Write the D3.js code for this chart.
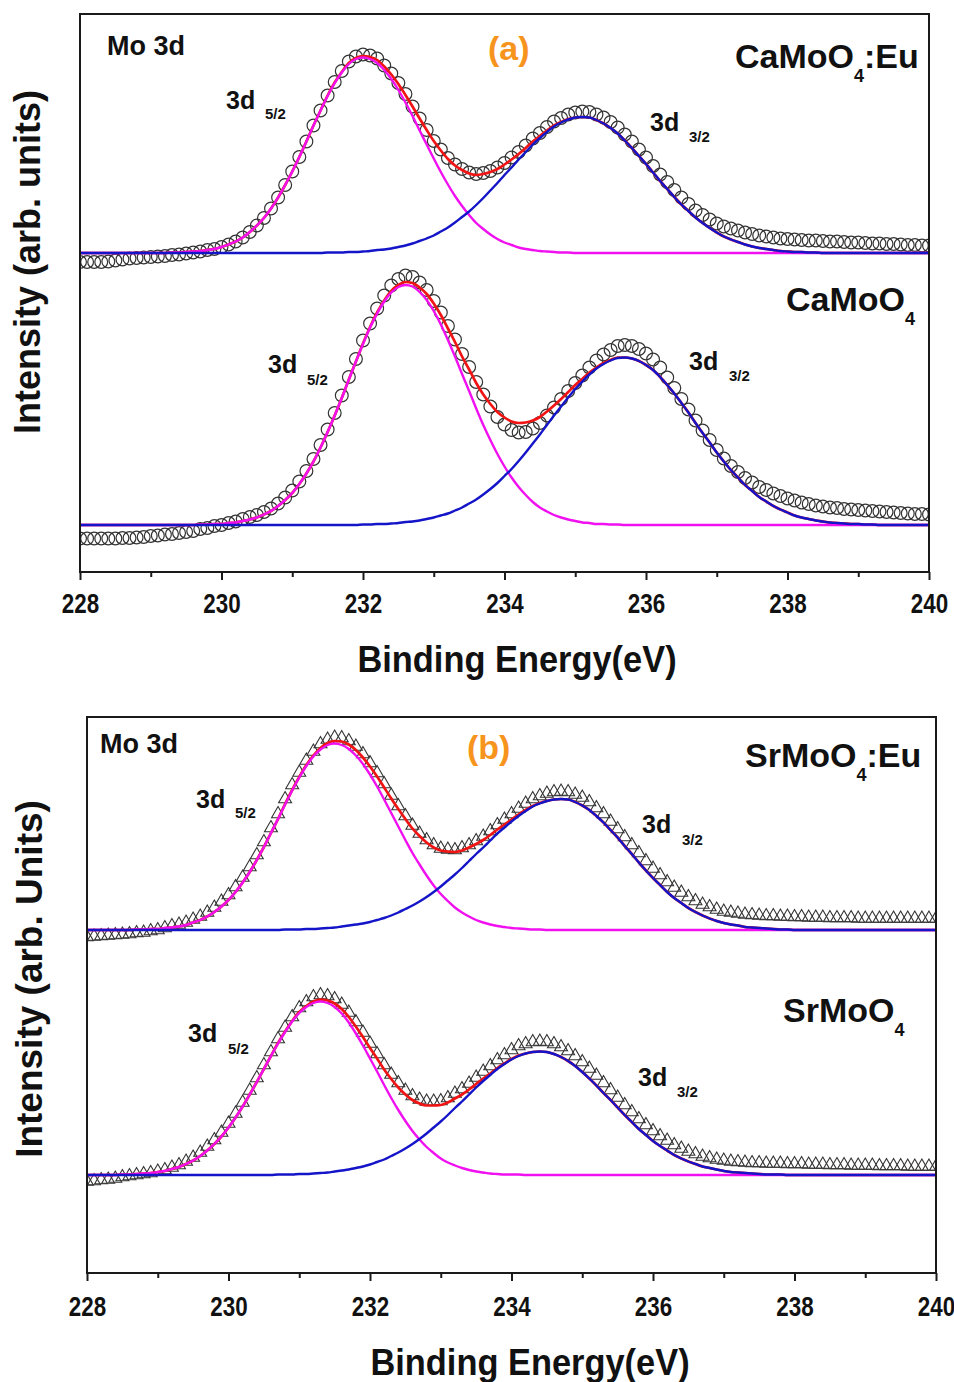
<!DOCTYPE html>
<html>
<head>
<meta charset="utf-8">
<script src="https://cdn.jsdelivr.net/npm/d3@7"></script>
<style>
  html, body { margin: 0; padding: 0; background: #fff; }
  svg { display: block; }
  text { font-family: "Liberation Sans", Arial, Helvetica, sans-serif; font-weight: bold; fill: #111; }
</style>
</head>
<body>
<svg id="chart" width="954" height="1382"></svg>
<script>
// Mo 3d XPS spectra, binding energy grid 228.0 - 240.0 eV in 0.1 eV steps
const energyStart = 228;
const energyStep = 0.1;
const energyDomain = [228, 240];
const majorTicks = [228, 230, 232, 234, 236, 238, 240];
const minorTicks = [229, 231, 233, 235, 237, 239];

// (a) CaMoO4:Eu - measured points and fitted 3d5/2 / 3d3/2 components (arb. units)
const caEuData = [
  -18,-18,-18,-18,-17,-15,-13,-11,-10,-9,
  -8,-7,-6,-4,-3,-1,1,3,6,8,
  12,17,23,31,42,55,70,89,111,136,
  163,192,223,255,285,315,342,364,383,393,
  397,395,389,375,359,340,318,293,269,246,
  224,207,190,177,168,161,158,160,164,171,
  180,191,202,215,229,240,252,263,270,277,
  281,283,282,277,271,262,251,237,223,207,
  191,174,157,142,126,111,98,85,76,67,
  59,53,49,45,41,38,35,33,31,29,
  28,27,26,25,25,24,23,23,22,21,
  21,20,19,19,18,18,17,16,16,15,15
];
const caEuMo52 = [
  0,0,0,0,0,0,0,0,0,0,
  0,0,0,1,1,2,3,4,6,8,
  12,17,23,31,42,55,70,89,111,136,
  163,192,223,255,285,314,340,361,378,388,
  391,388,380,366,348,326,301,274,245,217,
  189,162,137,114,94,76,60,48,37,28,
  21,16,11,8,6,4,3,2,1,1,
  0,0,0,0,0,0,0,0,0,0,
  0,0,0,0,0,0,0,0,0,0,
  0,0,0,0,0,0,0,0,0,0,
  0,0,0,0,0,0,0,0,0,0,
  0,0,0,0,0,0,0,0,0,0,0
];
const caEuMo32 = [
  0,0,0,0,0,0,0,0,0,0,
  0,0,0,0,0,0,0,0,0,0,
  0,0,0,0,0,0,0,0,0,0,
  0,0,0,0,0,1,1,1,2,2,
  3,4,6,7,9,12,15,19,24,29,
  35,43,51,61,72,83,96,110,125,140,
  156,171,187,202,217,230,242,253,261,267,
  271,272,271,266,259,250,239,225,210,194,
  178,161,144,128,112,97,84,71,60,50,
  41,33,27,22,17,13,10,8,6,4,
  3,2,2,1,1,0,0,0,0,0,
  0,0,0,0,0,0,0,0,0,0,0
];

// (a) CaMoO4
const caData = [
  -27,-27,-27,-27,-27,-27,-26,-26,-25,-24,
  -22,-21,-19,-18,-16,-14,-12,-8,-6,-2,
  0,4,7,12,16,20,26,33,43,55,
  69,87,108,132,160,191,224,259,296,332,
  369,403,433,459,479,492,499,496,485,470,
  448,425,398,371,342,316,286,261,237,216,
  201,190,185,186,193,204,219,235,252,268,
  284,299,315,329,341,350,358,360,358,352,
  343,331,315,295,274,252,231,209,189,170,
  150,133,118,106,94,85,76,70,63,58,
  53,49,45,42,39,37,35,34,32,31,
  30,29,28,27,26,25,24,23,22,22,21
];
const caMo52 = [
  0,0,0,0,0,0,0,0,0,0,
  0,0,0,0,0,0,0,1,1,2,
  2,4,5,8,11,15,21,28,38,50,
  64,82,103,127,155,186,219,254,291,327,
  362,395,423,447,465,476,480,477,466,450,
  428,401,370,337,302,268,233,200,170,142,
  117,95,76,60,46,35,27,20,15,11,
  8,5,4,2,2,1,1,0,0,0,
  0,0,0,0,0,0,0,0,0,0,
  0,0,0,0,0,0,0,0,0,0,
  0,0,0,0,0,0,0,0,0,0,
  0,0,0,0,0,0,0,0,0,0,0
];
const caMo32 = [
  0,0,0,0,0,0,0,0,0,0,
  0,0,0,0,0,0,0,0,0,0,
  0,0,0,0,0,0,0,0,0,0,
  0,0,0,0,0,0,0,0,0,0,
  1,1,2,2,3,4,6,7,9,12,
  15,19,23,29,35,43,51,61,72,84,
  98,112,128,145,163,181,200,219,237,255,
  272,287,301,313,322,329,334,335,333,328,
  320,310,296,280,263,244,225,204,184,165,
  145,127,110,95,80,68,56,47,38,31,
  25,19,15,12,9,7,5,4,3,2,
  2,1,1,0,0,0,0,0,0,0,0
];

// (b) SrMoO4:Eu
const srEuData = [
  -14,-13,-12,-11,-10,-9,-8,-6,-5,-2,
  0,4,8,11,15,21,27,35,45,57,
  70,86,105,126,150,176,204,232,262,290,
  315,339,357,372,381,385,384,378,367,352,
  334,314,292,269,248,228,209,193,180,170,
  163,161,160,164,170,178,187,198,210,221,
  232,243,253,262,268,273,276,277,276,271,
  265,256,244,232,217,202,186,170,154,138,
  123,110,96,85,75,66,58,51,46,41,
  37,35,33,31,30,29,28,28,27,27,
  26,26,25,25,25,24,24,24,24,23,
  23,23,23,23,23,23,23,23,23,23,23
];
const srEuMo52 = [
  0,0,0,0,0,0,0,1,1,2,
  2,4,5,7,10,15,20,27,36,47,
  60,76,95,116,140,166,194,222,251,279,
  305,328,347,361,370,373,370,362,349,332,
  311,287,261,234,207,180,154,131,109,89,
  72,58,45,35,27,20,15,11,8,6,
  4,3,2,1,1,0,0,0,0,0,
  0,0,0,0,0,0,0,0,0,0,
  0,0,0,0,0,0,0,0,0,0,
  0,0,0,0,0,0,0,0,0,0,
  0,0,0,0,0,0,0,0,0,0,
  0,0,0,0,0,0,0,0,0,0,0
];
const srEuMo32 = [
  0,0,0,0,0,0,0,0,0,0,
  0,0,0,0,0,0,0,0,0,0,
  0,0,0,0,0,0,0,0,1,1,
  1,2,2,3,4,5,7,9,11,13,
  16,20,24,29,35,42,49,57,66,76,
  87,99,111,124,138,152,165,179,193,205,
  217,228,238,247,253,258,261,262,261,256,
  249,240,228,215,200,185,168,152,135,119,
  104,90,76,64,54,44,36,29,23,18,
  14,11,9,6,5,4,3,2,1,1,
  0,0,0,0,0,0,0,0,0,0,
  0,0,0,0,0,0,0,0,0,0,0
];

// (b) SrMoO4
const srData = [
  -13,-12,-10,-9,-7,-4,-2,0,2,4,
  7,10,15,20,27,35,45,57,70,85,
  103,123,145,169,194,220,246,272,295,316,
  334,346,356,360,358,352,341,325,306,285,
  263,242,220,201,184,169,158,151,147,147,
  148,154,163,172,183,195,207,218,230,240,
  250,258,262,266,267,266,262,256,248,238,
  226,213,199,184,170,155,140,126,112,100,
  88,78,69,60,53,47,42,37,34,31,
  29,27,26,25,24,24,23,23,23,22,
  22,22,21,21,21,20,20,20,19,19,
  19,19,18,18,18,18,17,17,17,17,17
];
const srMo52 = [
  0,0,0,0,0,1,1,2,3,4,
  6,8,12,16,22,29,38,49,62,77,
  95,115,137,161,186,212,238,263,286,307,
  324,336,344,347,344,336,323,305,283,259,
  233,207,180,154,130,108,88,71,56,44,
  33,25,19,14,10,7,5,3,2,1,
  1,1,0,0,0,0,0,0,0,0,
  0,0,0,0,0,0,0,0,0,0,
  0,0,0,0,0,0,0,0,0,0,
  0,0,0,0,0,0,0,0,0,0,
  0,0,0,0,0,0,0,0,0,0,
  0,0,0,0,0,0,0,0,0,0,0
];
const srMo32 = [
  0,0,0,0,0,0,0,0,0,0,
  0,0,0,0,0,0,0,0,0,0,
  0,0,0,0,0,0,0,1,1,1,
  2,2,3,4,5,7,9,11,14,17,
  21,26,31,38,45,53,62,72,83,95,
  107,120,134,147,161,175,188,200,212,222,
  231,238,243,246,247,246,242,236,228,218,
  206,193,179,164,150,135,120,106,92,80,
  68,58,49,40,33,27,22,17,14,11,
  8,6,5,4,3,2,1,1,1,0,
  0,0,0,0,0,0,0,0,0,0,
  0,0,0,0,0,0,0,0,0,0,0
];

// vertical stacking offsets of the two spectra in each panel (arb. units)
const offsetsA = [638, 94];
const offsetsB = [686, 196];
const intensityMaxA = 1116;
const intensityMaxB = 1112;

const COLORS = { fit: "#f01414", p52: "#f010f0", p32: "#1414c8", marker: "#333", tag: "#f7941d", ink: "#111" };
const FONT = '"Liberation Sans", Arial, Helvetica, sans-serif';

const svg = d3.select("#chart");

const panels = [
  {
    id: "a", left: 80, right: 929, top: 14, bottom: 572, yMax: intensityMaxA, marker: "circle",
    tickLabelGap: 41, titleY: 672, titleX: 517, yTitle: "Intensity (arb. units)", yTitleX: 40, yTitleY: 262, yTitleSize: 36,
    traces: [
      { data: caEuData, p52: caEuMo52, p32: caEuMo32, offset: offsetsA[0] },
      { data: caData, p52: caMo52, p32: caMo32, offset: offsetsA[1] }
    ],
    tag: { text: "(a)", x: 488, y: 60 },
    core: { x: 107, y: 55 },
    formulas: [
      { pre: "CaMoO", sub: "4", post: ":Eu", x: 735, y: 68 },
      { pre: "CaMoO", sub: "4", post: "", x: 786, y: 311 }
    ],
    levels: [
      { sub: "5/2", x: 226, y: 109, sx: 265, sy: 119 },
      { sub: "3/2", x: 650, y: 131, sx: 689, sy: 142 },
      { sub: "5/2", x: 268, y: 373, sx: 307, sy: 385 },
      { sub: "3/2", x: 689, y: 370, sx: 729, sy: 381 }
    ]
  },
  {
    id: "b", left: 87, right: 936, top: 717, bottom: 1273, yMax: intensityMaxB, marker: "triangle",
    tickLabelGap: 43, titleY: 1375, titleX: 530, yTitle: "Intensity (arb. Units)", yTitleX: 42, yTitleY: 979, yTitleSize: 37,
    traces: [
      { data: srEuData, p52: srEuMo52, p32: srEuMo32, offset: offsetsB[0] },
      { data: srData, p52: srMo52, p32: srMo32, offset: offsetsB[1] }
    ],
    tag: { text: "(b)", x: 467, y: 759 },
    core: { x: 100, y: 753 },
    formulas: [
      { pre: "SrMoO", sub: "4", post: ":Eu", x: 745, y: 767 },
      { pre: "SrMoO", sub: "4", post: "", x: 783, y: 1022 }
    ],
    levels: [
      { sub: "5/2", x: 196, y: 808, sx: 235, sy: 818 },
      { sub: "3/2", x: 642, y: 833, sx: 682, sy: 845 },
      { sub: "5/2", x: 188, y: 1042, sx: 228, sy: 1054 },
      { sub: "3/2", x: 638, y: 1086, sx: 677, sy: 1097 }
    ]
  }
];

function energyAt(i) { return energyStart + i * energyStep; }

function drawPanel(p) {
  const x = d3.scaleLinear().domain(energyDomain).range([p.left, p.right]);
  const y = d3.scaleLinear().domain([0, p.yMax]).range([p.bottom, p.top]);
  const g = svg.append("g").attr("class", "panel-" + p.id);

  const clipId = "clip-" + p.id;
  g.append("clipPath").attr("id", clipId)
    .append("rect").attr("x", p.left).attr("y", p.top)
    .attr("width", p.right - p.left).attr("height", p.bottom - p.top);
  const plot = g.append("g").attr("clip-path", `url(#${clipId})`);

  const line = d3.line().x(d => x(d.e)).y(d => y(d.v)).curve(d3.curveMonotoneX);

  p.traces.forEach(t => {
    const pts = t.data.map((v, i) => ({ e: energyAt(i), v: v + t.offset }));
    if (p.marker === "circle") {
      plot.append("g").selectAll("circle").data(pts).join("circle")
        .attr("cx", d => x(d.e)).attr("cy", d => y(d.v)).attr("r", 6.4)
        .attr("fill", "none").attr("stroke", COLORS.marker).attr("stroke-width", 1.2);
    } else {
      const tri = d3.symbol(d3.symbolTriangle, 72);
      plot.append("g").selectAll("path").data(pts).join("path")
        .attr("d", tri).attr("transform", d => `translate(${x(d.e)},${y(d.v)})`)
        .attr("fill", "none").attr("stroke", COLORS.marker).attr("stroke-width", 1.1);
    }
    const envelope = t.p52.map((v, i) => ({ e: energyAt(i), v: v + t.p32[i] + t.offset }));
    const c52 = t.p52.map((v, i) => ({ e: energyAt(i), v: v + t.offset }));
    const c32 = t.p32.map((v, i) => ({ e: energyAt(i), v: v + t.offset }));
    plot.append("path").attr("d", line(envelope)).attr("fill", "none").attr("stroke", COLORS.fit).attr("stroke-width", 2.7);
    plot.append("path").attr("d", line(c52)).attr("fill", "none").attr("stroke", COLORS.p52).attr("stroke-width", 2.4);
    plot.append("path").attr("d", line(c32)).attr("fill", "none").attr("stroke", COLORS.p32).attr("stroke-width", 2.4);
  });

  // frame
  g.append("rect").attr("x", p.left).attr("y", p.top)
    .attr("width", p.right - p.left).attr("height", p.bottom - p.top)
    .attr("fill", "none").attr("stroke", "#1a1a1a").attr("stroke-width", 2);

  // bottom axis: labelled major ticks, unlabelled minor ticks
  const major = g.append("g").attr("transform", `translate(0,${p.bottom})`)
    .call(d3.axisBottom(x).tickValues(majorTicks).tickSize(8).tickSizeOuter(0).tickFormat(d3.format("d")));
  major.select(".domain").remove();
  major.selectAll("line").attr("stroke", "#1a1a1a").attr("stroke-width", 2);
  major.selectAll("text")
    .attr("y", p.tickLabelGap).attr("dy", null)
    .attr("transform", "scale(0.8,1)")
    .style("font-size", "28px").style("font-family", FONT).style("font-weight", "bold").style("fill", COLORS.ink);

  const minor = g.append("g").attr("transform", `translate(0,${p.bottom})`)
    .call(d3.axisBottom(x).tickValues(minorTicks).tickSize(5).tickSizeOuter(0).tickFormat(""));
  minor.select(".domain").remove();
  minor.selectAll("line").attr("stroke", "#1a1a1a").attr("stroke-width", 2);

  // axis titles
  g.append("text").attr("transform", `translate(${p.titleX},${p.titleY}) scale(0.93,1)`)
    .attr("text-anchor", "middle").style("font-size", "37px").text("Binding Energy(eV)");
  g.append("text").attr("transform", `translate(${p.yTitleX},${p.yTitleY}) rotate(-90)`)
    .attr("text-anchor", "middle").style("font-size", p.yTitleSize + "px").text(p.yTitle);

  // annotations
  g.append("text").attr("x", p.core.x).attr("y", p.core.y).style("font-size", "27px").text("Mo 3d");
  g.append("text").attr("x", p.tag.x).attr("y", p.tag.y).style("font-size", "34px")
    .style("fill", COLORS.tag).text(p.tag.text);

  p.formulas.forEach(f => {
    const t = g.append("text").attr("x", f.x).attr("y", f.y).style("font-size", "34px");
    t.append("tspan").text(f.pre);
    t.append("tspan").attr("dy", 14).style("font-size", "18px").text(f.sub);
    if (f.post) t.append("tspan").attr("dy", -14).text(f.post);
  });

  p.levels.forEach(l => {
    g.append("text").attr("x", l.x).attr("y", l.y).style("font-size", "25px").text("3d");
    g.append("text").attr("x", l.sx).attr("y", l.sy).style("font-size", "15px").text(l.sub);
  });
}

panels.forEach(drawPanel);
</script>
</body>
</html>
